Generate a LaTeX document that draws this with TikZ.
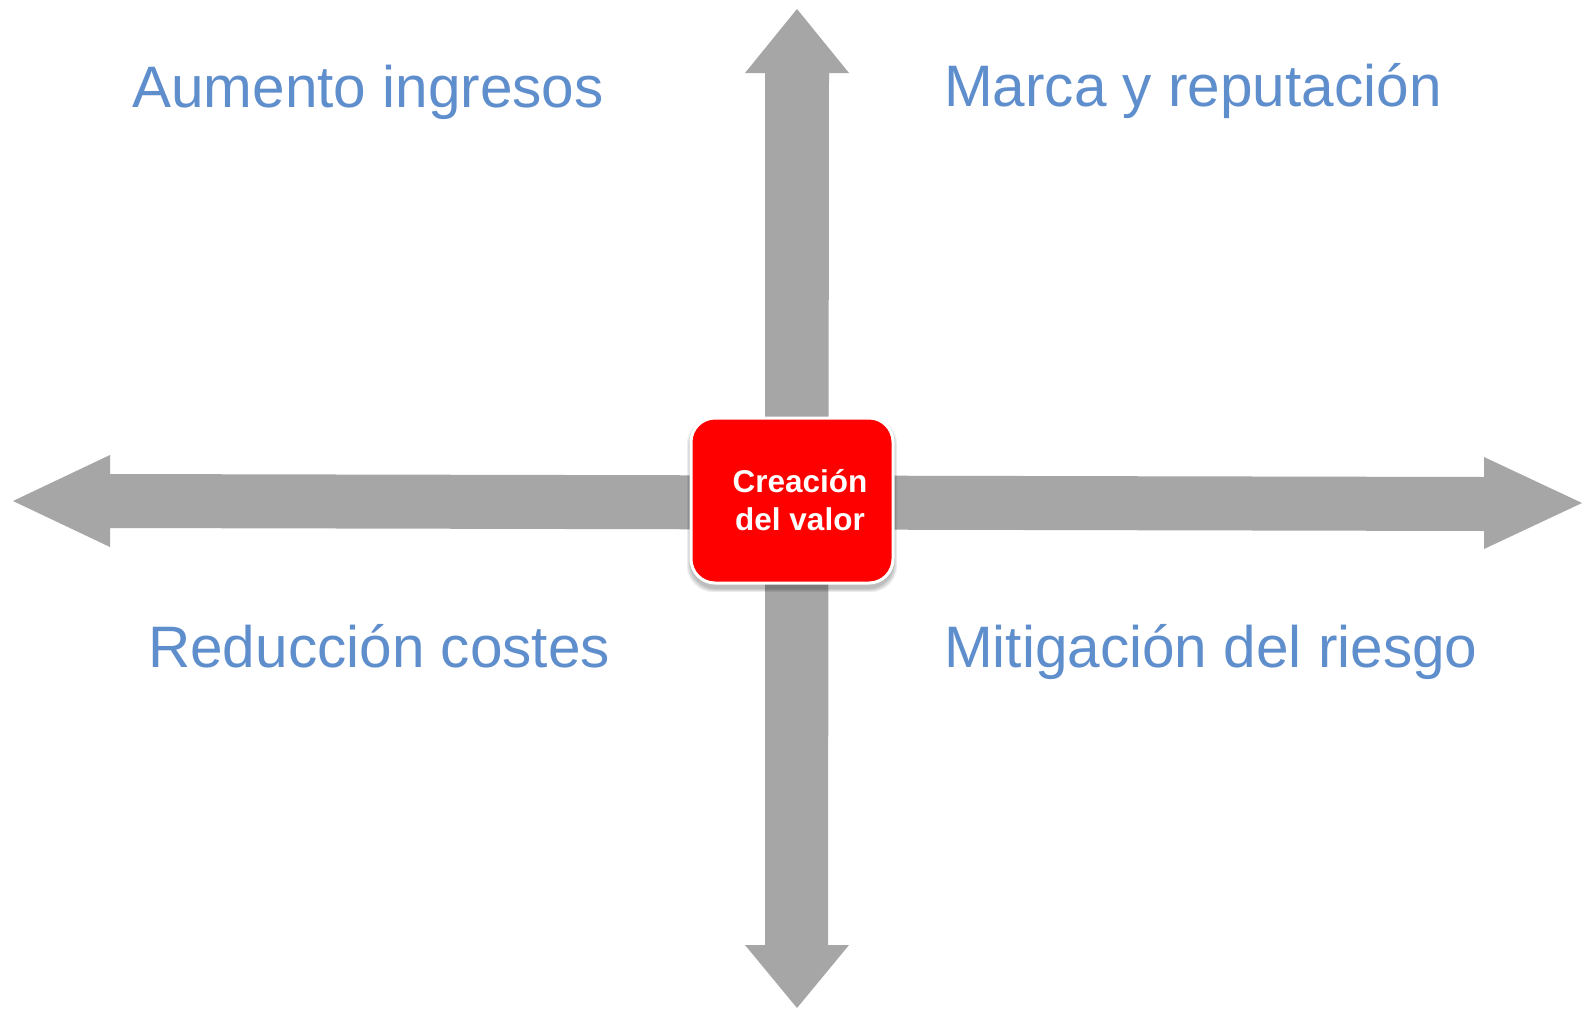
\documentclass[tikz,border=0pt]{standalone}
\usepackage{fontspec}
\setmainfont{Liberation Sans}
\definecolor{lbl}{RGB}{95,142,205}
\definecolor{arrowgray}{RGB}{166,166,166}
\definecolor{boxred}{RGB}{255,0,0}
\begin{document}
\begin{tikzpicture}[x=1pt,y=-1pt,
  bigarrow/.style={fill=arrowgray, draw=none},
  quadlabel/.style={anchor=base west, inner sep=0pt, text=lbl, font=\fontsize{58.5}{70}\selectfont},
  centerbox/.style={draw=white, line width=3pt, fill=boxred, rounded corners=24pt,
    minimum width=202pt, minimum height=165pt, inner sep=0pt},
  softshadow/.style={fill=black, opacity=0.07, rounded corners=26pt},
  boxtext/.style={text=white, align=center, inner sep=0pt, font=\bfseries\fontsize{31.5}{38}\selectfont}]
\useasboundingbox (0,0) rectangle (1582,1009);
\fill[white] (0,0) rectangle (1582,1009);
% horizontal double arrow
\fill[bigarrow] (13,501) -- (110,455) -- (110,474) -- (1484,477) -- (1484,457) -- (1582,503)
  -- (1484,549) -- (1484,531) -- (110,528) -- (110,547) -- cycle;
% vertical double arrow
\fill[bigarrow] (797,9) -- (849,73) -- (829,73) -- (828,945) -- (849,945) -- (797,1008)
  -- (745,945) -- (765,945) -- (765,73) -- (745,73) -- cycle;
% soft shadow of the centre box
\foreach \g in {2,4,6,8}
  \fill[softshadow] (691-\g/2,422-\g/2) rectangle (893+\g/2,588+\g/2);
% centre box
\node[centerbox] (core) at (792,500.5) {};
\node[boxtext] (coretext) at (800,500) {Creación\\del valor};
% quadrant labels
\node[quadlabel] (q1) at (132,107) {Aumento ingresos};
\node[quadlabel] (q2) at (944,106) {Marca y reputación};
\node[quadlabel] (q3) at (148,667) {Reducción costes};
\node[quadlabel] (q4) at (944,667) {Mitigación del riesgo};
\end{tikzpicture}
\end{document}
